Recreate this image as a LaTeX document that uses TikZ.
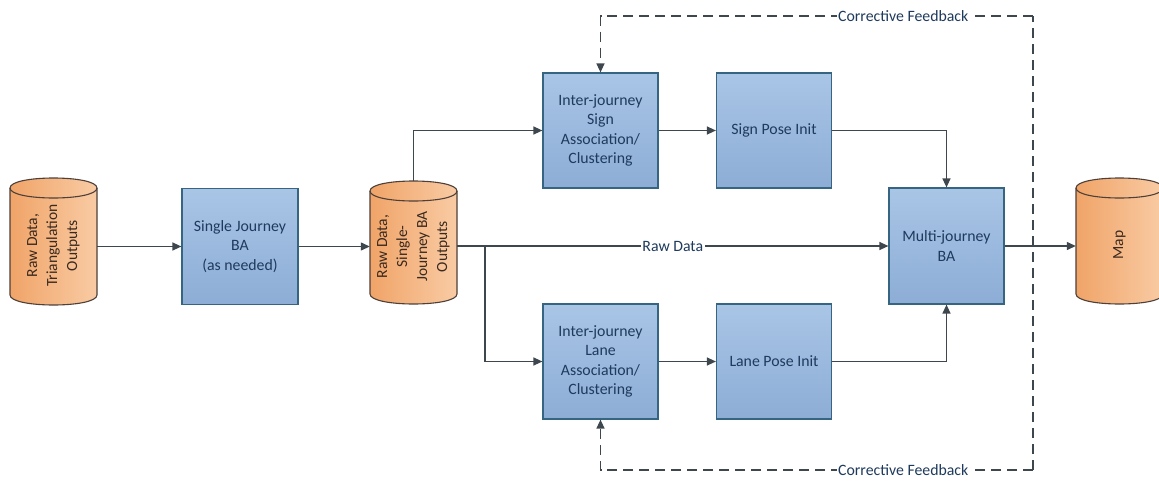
\documentclass[tikz,border=0pt]{standalone}
\usepackage{fontspec}
\setmainfont{Carlito}
\usetikzlibrary{arrows.meta}
\definecolor{boxtop}{HTML}{A9C5E6}
\definecolor{boxbot}{HTML}{8DADD6}
\definecolor{boxline}{HTML}{356580}
\definecolor{boxtext}{HTML}{1E3A5C}
\definecolor{cylL}{HTML}{F0A468}
\definecolor{cylR}{HTML}{F9CBA4}
\definecolor{cylline}{HTML}{4E4038}
\definecolor{cyltext}{HTML}{3A2A20}
\definecolor{arrowc}{HTML}{3E474D}
\tikzset{
  blk/.style={draw=boxline, line width=1.2pt, top color=boxtop, bottom color=boxbot,
    minimum width=116pt, minimum height=116pt, inner sep=0pt, align=center,
    text=boxtext, font=\fontsize{15.8}{19.6}\selectfont},
  arr/.style={draw=arrowc, line width=1.3pt, -{Triangle[length=9pt,width=8pt]}},
  fb/.style={draw=arrowc, line width=1.3pt, dash pattern=on 10pt off 6pt},
  lbl/.style={fill=white, inner sep=1.5pt, text=boxtext, font=\fontsize{15.8}{18}\selectfont},
  cyltxt/.style={rotate=90, align=center, text=cyltext, font=\fontsize{15.5}{20}\selectfont}
}
\newcommand\mycyl[6]{%
  \shade[left color=cylL, right color=cylR]
    (#2,#3+10) .. controls (#2,#3-10/3) and (#4,#3-10/3) .. (#4,#3+10)
    -- (#4,#5-10) .. controls (#4,#5+10/3) and (#2,#5+10/3) .. (#2,#5-10) -- cycle;
  \draw[cylline, line width=1.1pt]
    (#2,#3+10) .. controls (#2,#3-10/3) and (#4,#3-10/3) .. (#4,#3+10)
    -- (#4,#5-10) .. controls (#4,#5+10/3) and (#2,#5+10/3) .. (#2,#5-10) -- cycle;
  \draw[cylline, line width=1.1pt]
    (#2,#3+10) .. controls (#2,#3+10+40/3) and (#4,#3+10+40/3) .. (#4,#3+10);
  \pgfmathsetmacro\cw{#4-#2}\pgfmathsetmacro\ch{#5-#3}%
  \node[inner sep=0pt, minimum width=\cw pt, minimum height=\ch pt] (#1)
    at ({(#2+#4)/2},{(#3+#5)/2}) {};
  \node[cyltxt] at ({(#2+#4)/2},{(#3+#5)/2+4}) {#6};
}
\begin{document}
\begin{tikzpicture}[x=1pt,y=-1pt]
\useasboundingbox (0,0) rectangle (1159,485);
\fill[white] (0,0) rectangle (1159,485);

\mycyl{c1}{10}{178}{97}{305}{Raw Data,\\Triangulation\\Outputs}
\mycyl{c2}{370}{181}{457}{304}{Raw Data,\\Single-\\Journey BA\\Outputs}
\mycyl{c3}{1076}{178}{1163}{304}{Map}

\node[blk] (b1) at (240,246.5) {Single Journey\\BA\\(as needed)};
\node[blk, minimum width=115pt, minimum height=115pt] (sa) at (600.5,130.5) {Inter-journey\\Sign\\Association/\\Clustering};
\node[blk, minimum width=115pt, minimum height=115pt] (sp) at (774,130.5) {Sign Pose Init};
\node[blk, minimum width=115pt, minimum height=115pt] (la) at (600.5,361.5) {Inter-journey\\Lane\\Association/\\Clustering};
\node[blk, minimum width=115pt, minimum height=115pt] (lp) at (774,361.5) {Lane Pose Init};
\node[blk, minimum width=115pt, minimum height=116pt] (mj) at (946.5,246) {Multi-journey\\BA};

\draw[arr] (c1.east |- b1.west) -- (b1.west);
\draw[arr] (b1.east) -- (c2.west |- b1.east);
\draw[arr] (c2.north) |- (sa.west);
\draw[arr] (sa) -- (sp);
\draw[arr] (sp.east) -| (mj.north);
\draw[arr] (c2.east |- mj.west) -- node[lbl] {Raw Data} (mj.west);
\coordinate (br) at (485,246);
\draw[arr] (br) |- (la.west);
\draw[arr] (la) -- (lp);
\draw[arr] (lp.east) -| (mj.south);
\draw[arr] (mj.east) -- (c3.west |- mj.east);

\coordinate (fbt) at (1033,16);
\coordinate (fbb) at (1033,470);
\draw[fb] (fbb) -- (fbt);
\draw[fb, -{Triangle[length=9pt,width=8pt]}] (fbt) -| node[lbl, pos=0.15] {Corrective Feedback} (sa.north);
\draw[fb, -{Triangle[length=9pt,width=8pt]}] (fbb) -| node[lbl, pos=0.15] {Corrective Feedback} (la.south);
\end{tikzpicture}
\end{document}
